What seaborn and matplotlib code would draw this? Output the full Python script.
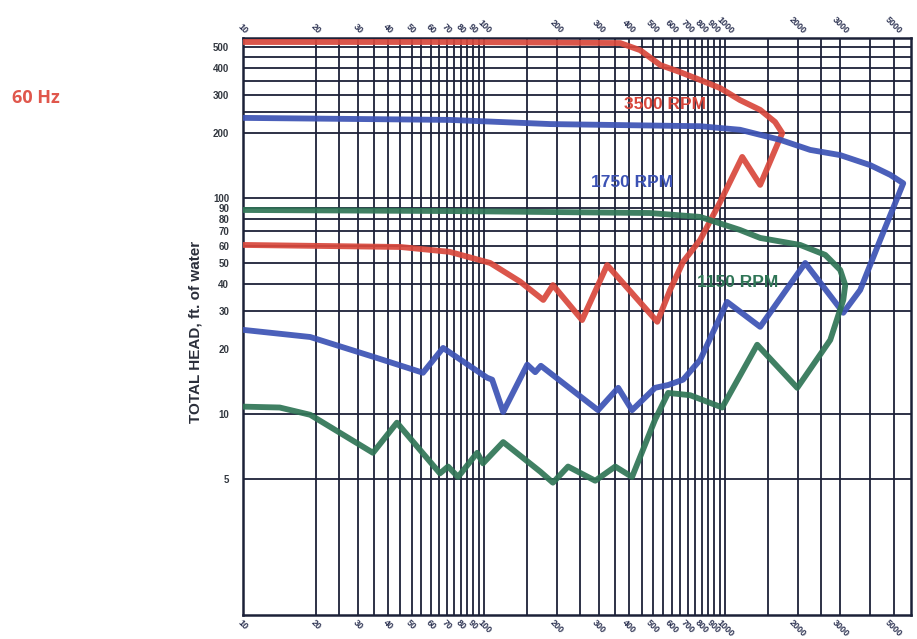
import numpy as np
import pandas as pd
import matplotlib.pyplot as plt
import matplotlib.ticker as mticker
import seaborn as sns

sns.set_style("white")
plt.rcParams['font.family'] = ['Liberation Sans', 'DejaVu Sans']

# --- curve data (flow, total head in ft of water) ---
# each curve is one closed-ish loop: upper head curve left->right, then lower curve right->left
rpm3500_flow = [10, 72, 367, 444, 538, 650, 788, 953, 1153, 1397, 1611, 1725,
                1397, 1177, 953, 788, 669, 591, 523, 324, 255, 193, 176, 141, 106, 72, 45, 10]
rpm3500_head = [528, 528, 522, 484, 413, 383, 352, 323, 284, 256, 225, 200,
                115, 155, 95.8, 64, 50.6, 37.5, 26.7, 48.9, 27.2, 39.5, 33.7, 41, 50, 56.3, 59.3, 60.6]

rpm1750_flow = [10, 72, 188, 788, 1153, 1690, 2253, 3001, 3995, 4838, 5479,
                4397, 3632, 3090, 2148, 1397, 1019, 788, 669, 580, 512, 411, 360, 297,
                172, 163, 151, 120, 108, 103, 67.6, 55.8, 34.6, 19, 10]
rpm1750_head = [235, 230, 220, 215, 207, 186, 167, 158, 142, 128, 117,
                64, 37.5, 29.4, 50, 25.3, 33, 17.8, 14.4, 13.6, 13.2, 10.4, 13.2, 10.4,
                16.7, 15.6, 16.9, 10.2, 14.4, 14.7, 20.2, 15.5, 18.4, 22.7, 24.5]

rpm1150_flow = [10, 72, 488, 788, 1153, 1397, 2048, 2601, 3001, 3148,
                3090, 2729, 1991, 1358, 972, 716, 580, 512, 411, 350, 289, 223, 193, 171,
                120, 99, 93.6, 78, 70.9, 65.6, 43.5, 34.6, 19, 14.2, 10]
rpm1150_head = [88, 87, 85.2, 81.7, 71.1, 65.3, 60.6, 54.5, 46.4, 39.5,
                33.7, 22, 13.2, 20.9, 10.7, 12.2, 12.5, 9.4, 5.1, 5.7, 4.9, 5.7, 4.8, 5.4,
                7.4, 5.9, 6.6, 5.1, 5.7, 5.3, 9.1, 6.6, 9.9, 10.7, 10.8]

# axis ticks / graph paper lines
x_ticks = [10, 20, 30, 40, 50, 60, 70, 80, 90, 100, 200, 300, 400, 500, 600, 700, 800, 900,
           1000, 2000, 3000, 5000]
y_ticks = [5, 10, 20, 30, 40, 50, 60, 70, 80, 90, 100, 200, 300, 400, 500]
x_grid = [20, 25, 30, 35, 40, 45, 50, 55, 60, 65, 70, 75, 80, 85, 90, 95, 100,
          150, 200, 250, 300, 350, 400, 450, 500, 550, 600, 650, 700, 750, 800, 850, 900, 950, 1000,
          1500, 2000, 2500, 3000, 4000, 5000]
y_grid = [5, 10, 30, 40, 50, 60, 70, 80, 90, 100, 200, 250, 300, 350, 400, 450, 500]

curves = pd.concat([
    pd.DataFrame({'flow': rpm3500_flow, 'head': rpm3500_head, 'rpm': '3500 RPM'}),
    pd.DataFrame({'flow': rpm1750_flow, 'head': rpm1750_head, 'rpm': '1750 RPM'}),
    pd.DataFrame({'flow': rpm1150_flow, 'head': rpm1150_head, 'rpm': '1150 RPM'}),
])
colors = {'3500 RPM': '#d8473c', '1750 RPM': '#3c52b4', '1150 RPM': '#2f7556'}
grid_col = '#1c2138'

fig = plt.figure(figsize=(9.17, 6.39), dpi=100)
ax = fig.add_axes([243/917, 1 - 615/639, (911 - 243)/917, (615 - 38)/639])

for rpm, sub in curves.groupby('rpm', sort=False):
    sns.lineplot(data=sub, x='flow', y='head', sort=False, estimator=None,
                 color=colors[rpm], lw=4.2, alpha=0.92, ax=ax, zorder=3)

ax.set_xscale('log')
ax.set_yscale('log')
ax.set_xlim(10, 5900)
ax.set_ylim(1.17, 551)

for v in x_grid:
    ax.axvline(v, color=grid_col, lw=1.3, zorder=1)
for v in y_grid:
    ax.axhline(v, color=grid_col, lw=1.3, zorder=1)

ax.xaxis.set_minor_locator(mticker.NullLocator())
ax.yaxis.set_minor_locator(mticker.NullLocator())
ax.set_xticks(x_ticks)
ax.set_xticklabels([str(v) for v in x_ticks])
ax.set_yticks(y_ticks)
ax.set_yticklabels([str(v) for v in y_ticks])
ax.tick_params(axis='x', top=True, labeltop=True, bottom=True, labelbottom=True,
               length=0, labelrotation=-45, labelsize=6.5, labelcolor='#2a3050')
ax.tick_params(axis='x', which='major', pad=2, bottom=True)
ax.tick_params(axis='y', length=0, pad=10, labelsize=7, labelcolor='#333840')
for lab in ax.get_xticklabels() + ax.get_yticklabels():
    lab.set_fontweight('bold')
for lab in ax.xaxis.get_majorticklabels():
    lab.set_fontsize(6.5)
ax.set_xlabel('')
ax.set_ylabel('')

for s in ax.spines.values():
    s.set_color(grid_col)
    s.set_linewidth(1.8)

ax.text(0.632, 0.884, '3500 RPM', transform=ax.transAxes, ha='center', va='center',
        fontsize=12.5, fontweight='bold', color=colors['3500 RPM'], zorder=4)
ax.text(0.582, 0.749, '1750 RPM', transform=ax.transAxes, ha='center', va='center',
        fontsize=12.5, fontweight='bold', color=colors['1750 RPM'], zorder=4)
ax.text(0.741, 0.577, '1150 RPM', transform=ax.transAxes, ha='center', va='center',
        fontsize=12.5, fontweight='bold', color=colors['1150 RPM'], zorder=4)

fig.text(195/917, 1 - 332/639, 'TOTAL HEAD, ft. of water', rotation=90, ha='center', va='center',
         fontsize=11, fontweight='bold', color='#2a2e3a')
fig.text(12/917, 1 - 98/639, '60 Hz', ha='left', va='center', fontsize=13,
         fontweight='bold', color='#e0574c', family='Open Sans')

fig.savefig('out.png', dpi=100)
